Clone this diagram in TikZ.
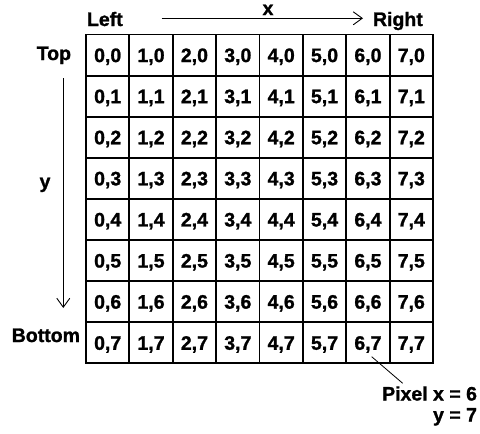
\documentclass[tikz,border=0pt]{standalone}
\usepackage{fontspec}
\setmainfont{Liberation Sans}
\newfontfamily\boldarial{Liberation Sans Bold}[FakeBold=1.2]
\usetikzlibrary{arrows.meta}
\begin{document}
\begin{tikzpicture}[x=1pt,y=-1pt,
  every node/.style={font=\fontsize{19.5}{23}\selectfont\boldarial, inner sep=0pt, outer sep=0pt},
  cellbox/.style={draw, line width=1.8pt, minimum width=43.375pt, minimum height=41.1pt, text height=14pt, text depth=0pt},
  axisarrow/.style={line width=0.9pt, -{Straight Barb[length=9pt,width=13pt,line width=0.9pt]}},
  leader/.style={line width=0.8pt}]
\useasboundingbox (0,0) rectangle (480,434);
\foreach \i in {0,...,7}{
  \foreach \j in {0,...,7}{
    \node[cellbox] (c\i\j) at ({86+43.375*\i+21.69},{34.5+41.1*\j+20.55}) {\i,\j};
  }
}
% labels
\node[anchor=base west] (left) at (87,26) {Left};
\node[anchor=base west] (right) at (373,26) {Right};
\node[anchor=base] (xlab) at (268,15) {x};
\node[anchor=base east] (top) at (71,60) {Top};
\node[anchor=base east] (bottom) at (80,342) {Bottom};
\node[anchor=base] (ylab) at (45,188) {y};
\node[anchor=base east] (pix) at (477,400.5) {Pixel x = 6};
\node[anchor=base east] (pixy) at (477,421.5) {y = 7};
% arrows
\coordinate (xs) at (161.7,18.3);
\coordinate (xe) at (363,18.3);
\draw[axisarrow] (xs) -- (xe);
\coordinate (ys) at (63.3,78);
\coordinate (ye) at (63.3,308);
\draw[axisarrow] (ys) -- (ye);
% leader
\coordinate (la) at (371.7,356.7);
\coordinate (lb) at (402.7,383.3);
\draw[leader] (la) -- (lb);
\end{tikzpicture}
\end{document}
